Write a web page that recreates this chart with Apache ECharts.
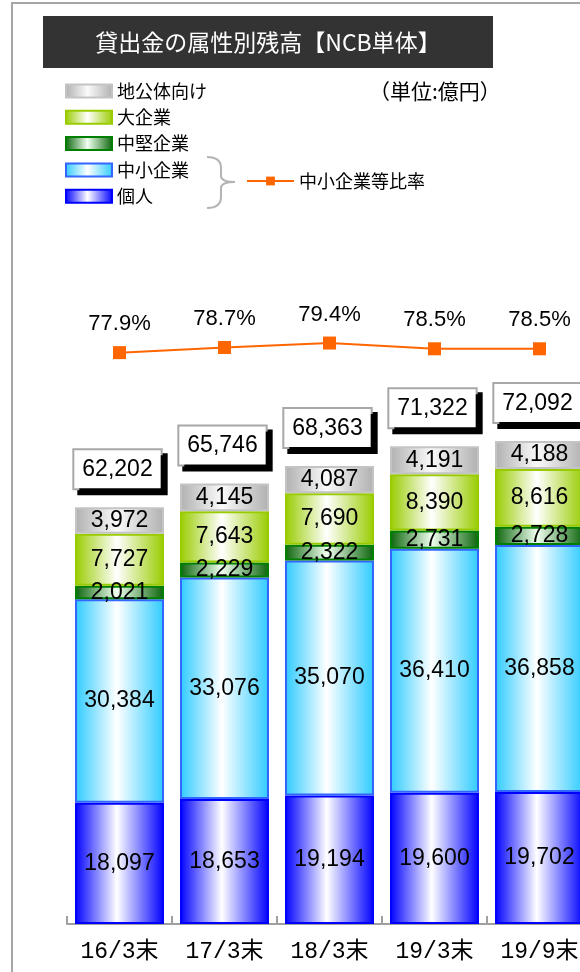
<!DOCTYPE html>
<html>
<head>
<meta charset="utf-8">
<style>
  html, body { margin: 0; padding: 0; background: #fff; overflow: hidden; }
  #chart { width: 600px; height: 972px; }
</style>
<script src="https://cdn.jsdelivr.net/npm/echarts@6/dist/echarts.min.js"></script>
</head>
<body>
<div id="chart"></div>
<script>
// Periods (fiscal period ends)
const categories = ['16/3末', '17/3末', '18/3末', '19/3末', '19/9末'];

// Loan balances by borrower type (unit: 100 million yen)
const kojin      = [18097, 18653, 19194, 19600, 19702];  // 個人
const chusho     = [30384, 33076, 35070, 36410, 36858];  // 中小企業
const chuken     = [2021, 2229, 2322, 2731, 2728];       // 中堅企業
const daikigyo   = [7727, 7643, 7690, 8390, 8616];       // 大企業
const chikoutai  = [3972, 4145, 4087, 4191, 4188];       // 地公体向け
const totals     = [62202, 65746, 68363, 71322, 72092];  // 合計

// Ratio of SMEs etc. (%)
const ratio = [77.9, 78.7, 79.4, 78.5, 78.5];

const NUM_FONT = '"Liberation Sans", Arial, sans-serif';
const JP_FONT = '"Noto Sans CJK JP", sans-serif';

function grad(edge, mid) {
  return new echarts.graphic.LinearGradient(0, 0, 1, 0, [
    { offset: 0, color: edge },
    { offset: 0.47, color: mid || '#ffffff' },
    { offset: 1, color: edge }
  ]);
}

const segLabel = {
  show: true,
  position: 'inside',
  color: '#000',
  fontSize: 23,
  fontFamily: NUM_FONT,
  formatter: p => p.value.toLocaleString('en-US')
};

function stackSeries(name, data, edge, border, mid) {
  return {
    name: name,
    type: 'bar',
    stack: 'loan',
    data: data,
    barWidth: 89,
    itemStyle: { color: grad(edge, mid), borderColor: border, borderWidth: 2 },
    label: segLabel,
    emphasis: { disabled: true }
  };
}

// brace pieces: curves and straight runs
const braceStyle = { fill: 'none', stroke: '#b4b4b4', lineWidth: 2 };
function curve(x1, y1, cx, cy, x2, y2) {
  return { type: 'bezierCurve', silent: true, z: 2,
    shape: { x1: x1, y1: y1, cpx1: cx, cpy1: cy, x2: x2, y2: y2 }, style: braceStyle };
}
function seg(x1, y1, x2, y2) {
  return { type: 'line', silent: true, z: 2,
    shape: { x1: x1, y1: y1, x2: x2, y2: y2 }, style: braceStyle };
}

// the plot runs slightly past the right edge of the visible page
const chart = echarts.init(document.getElementById('chart'), null, { renderer: 'canvas' });

const option = {
  animation: false,
  backgroundColor: '#ffffff',
  grid: { left: 67, width: 525, top: 254, bottom: 48, containLabel: false },
  xAxis: {
    type: 'category',
    data: categories,
    boundaryGap: true,
    axisLine: { lineStyle: { color: '#a0a0a0', width: 2 } },
    axisTick: { show: true, inside: true, length: 8, lineStyle: { color: '#a0a0a0', width: 2 } },
    axisLabel: {
      margin: 16,
      color: '#000',
      fontSize: 23,
      fontFamily: '"Liberation Mono", "Noto Sans CJK JP", monospace'
    }
  },
  yAxis: [
    { type: 'value', min: 0, max: 100000, show: false },
    { type: 'value', min: -11.43, max: 93.32, show: false }
  ],
  legend: [
    {
      orient: 'vertical',
      left: 65,
      top: 82,
      padding: 0,
      itemWidth: 46,
      itemHeight: 13,
      itemGap: 8.3,
      icon: 'rect',
      selectedMode: false,
      textStyle: { fontSize: 18, lineHeight: 18, color: '#000', fontFamily: JP_FONT },
      data: [
        { name: '地公体向け', itemStyle: { borderColor: '#c4c4c4', borderWidth: 2 } },
        { name: '大企業', itemStyle: { borderColor: '#99cc00', borderWidth: 2 } },
        { name: '中堅企業', itemStyle: { borderColor: '#008000', borderWidth: 2 } },
        { name: '中小企業', itemStyle: { borderColor: '#3366ff', borderWidth: 2 } },
        { name: '個人', itemStyle: { borderColor: '#0000ff', borderWidth: 2 } }
      ]
    },
    {
      left: 246,
      top: 172,
      padding: 0,
      itemWidth: 47,
      itemHeight: 11,
      selectedMode: false,
      textStyle: { fontSize: 18, color: '#000', fontFamily: JP_FONT },
      data: ['中小企業等比率']
    }
  ],
  graphic: [
    // outer frame
    { type: 'rect', shape: { x: 12, y: 3, width: 620, height: 1000 },
      style: { fill: 'none', stroke: '#a6a6a6', lineWidth: 2 }, silent: true, z: 0 },
    // title band
    { type: 'rect', shape: { x: 43, y: 16, width: 450, height: 52 },
      style: { fill: '#333333' }, silent: true, z: 1 },
    { type: 'text', x: 268, y: 42, z: 2,
      style: { text: '貸出金の属性別残高【NCB単体】', fill: '#ffffff', fontSize: 23,
               fontFamily: JP_FONT, align: 'center', verticalAlign: 'middle' } },
    // unit note
    { type: 'text', x: 369, y: 91, z: 2,
      style: { text: '（単位:億円）', fill: '#000', fontSize: 21, fontFamily: JP_FONT,
               align: 'left', verticalAlign: 'middle' } },
    // brace linking SME + individual to the ratio line
    curve(207, 157, 221, 157, 221, 168),
    seg(221, 168, 221, 176),
    curve(221, 176, 221, 182, 235, 182),
    curve(235, 182, 221, 182, 221, 188),
    seg(221, 188, 221, 197),
    curve(221, 197, 221, 208, 207, 208)
  ],
  series: [
    stackSeries('個人', kojin, '#0000ff', '#0000ff'),
    stackSeries('中小企業', chusho, '#2ecbff', '#3366ff'),
    stackSeries('中堅企業', chuken, '#0b650b', '#008000', '#f0fff0'),
    stackSeries('大企業', daikigyo, '#99cc00', '#99cc00'),
    stackSeries('地公体向け', chikoutai, '#b0b0b0', '#c4c4c4', '#fafafa'),
    {
      name: '合計',
      type: 'bar',
      data: totals,
      barWidth: 89,
      barGap: '-100%',
      itemStyle: { color: 'rgba(0,0,0,0)' },
      z: 5,
      label: {
        show: true,
        position: 'top',
        distance: 19,
        offset: [-2, 0],
        color: '#000',
        fontSize: 23,
        fontFamily: NUM_FONT,
        backgroundColor: '#ffffff',
        borderColor: '#a8a8a8',
        borderWidth: 2,
        padding: [8, 8, 7, 8],
        shadowColor: '#000000',
        shadowBlur: 0,
        shadowOffsetX: 5,
        shadowOffsetY: 5,
        formatter: p => p.value.toLocaleString('en-US')
      },
      emphasis: { disabled: true }
    },
    {
      name: '中小企業等比率',
      type: 'line',
      yAxisIndex: 1,
      data: ratio,
      symbol: 'rect',
      symbolSize: 13,
      color: '#ff6600',
      lineStyle: { color: '#ff6600', width: 2 },
      itemStyle: { color: '#ff6600' },
      z: 6,
      label: {
        show: true,
        position: 'top',
        distance: 11,
        color: '#000',
        fontSize: 22,
        fontFamily: '"Liberation Sans Narrow", "Arial Narrow", "Liberation Sans", sans-serif',
        formatter: p => p.value.toFixed(1) + '%'
      },
      emphasis: { disabled: true }
    }
  ]
};

chart.setOption(option);
</script>
</body>
</html>
